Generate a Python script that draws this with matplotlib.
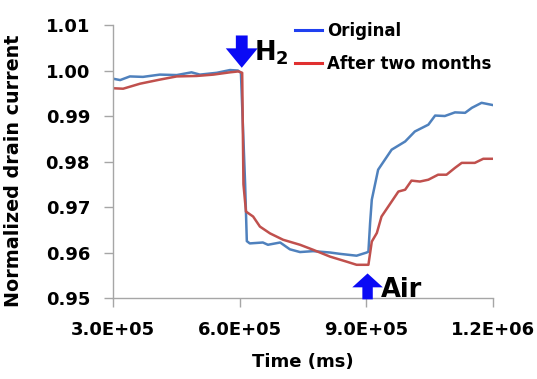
import matplotlib
matplotlib.use("Agg")
import matplotlib.pyplot as plt
from matplotlib.lines import Line2D
from matplotlib.ticker import FuncFormatter

# data (time in ms, normalized drain current)
t_orig = [3.00e5, 3.17e5, 3.40e5, 3.71e5, 4.11e5, 4.51e5, 4.86e5, 5.06e5, 5.46e5,
          5.77e5, 5.96e5, 6.03e5, 6.13e5, 6.17e5, 6.24e5, 6.55e5, 6.67e5, 6.96e5,
          7.19e5, 7.43e5, 7.74e5, 8.14e5, 8.38e5, 8.77e5, 9.01e5, 9.05e5, 9.09e5,
          9.13e5, 9.28e5, 9.44e5, 9.60e5, 9.92e5, 1.015e6, 1.047e6, 1.063e6,
          1.086e6, 1.110e6, 1.134e6, 1.150e6, 1.173e6, 1.200e6]
i_orig = [0.9982, 0.9979, 0.9987, 0.9986, 0.9991, 0.9990, 0.9996, 0.9991, 0.9995,
          1.0001, 1.0000, 0.9995, 0.9750, 0.9625, 0.9620, 0.9622, 0.9617, 0.9622,
          0.9607, 0.9601, 0.9603, 0.9600, 0.9597, 0.9593, 0.9600, 0.9602, 0.9665,
          0.9716, 0.9782, 0.9804, 0.9826, 0.9844, 0.9866, 0.9881, 0.9901,
          0.9900, 0.9908, 0.9907, 0.9918, 0.9929, 0.9924]

t_aged = [3.00e5, 3.24e5, 3.64e5, 4.11e5, 4.51e5, 4.98e5, 5.38e5, 5.77e5, 5.97e5,
          6.06e5, 6.09e5, 6.15e5, 6.32e5, 6.48e5, 6.72e5, 7.03e5, 7.43e5, 7.74e5,
          8.14e5, 8.53e5, 8.77e5, 9.05e5, 9.13e5, 9.25e5, 9.36e5, 9.52e5, 9.76e5,
          9.92e5, 1.007e6, 1.027e6, 1.047e6, 1.070e6, 1.090e6, 1.110e6, 1.126e6,
          1.157e6, 1.177e6, 1.200e6]
i_aged = [0.9961, 0.9960, 0.9971, 0.9980, 0.9987, 0.9988, 0.9991, 0.9996, 0.9998,
          0.9995, 0.9750, 0.9690, 0.9679, 0.9657, 0.9642, 0.9628, 0.9617, 0.9606,
          0.9591, 0.9580, 0.9573, 0.9573, 0.9624, 0.9643, 0.9679, 0.9701, 0.9734,
          0.9738, 0.9758, 0.9756, 0.9760, 0.9771, 0.9771, 0.9786, 0.9797,
          0.9797, 0.9806, 0.9806]

x_ticks = [3.0e5, 6.0e5, 9.0e5, 1.2e6]
y_ticks = [0.95, 0.96, 0.97, 0.98, 0.99, 1.00, 1.01]

plt.rcParams['font.family'] = 'DejaVu Sans'
plt.rcParams['font.weight'] = 'bold'

fig = plt.figure(figsize=(5.37, 3.79), dpi=100)
ax = fig.add_axes([0.2104, 0.2137, 0.7076, 0.7203])

ax.plot(t_orig, i_orig, color='#4F81BD', lw=1.8)
ax.plot(t_aged, i_aged, color='#C0504D', lw=1.8)

ax.set_xlim(3.0e5, 1.2e6)
ax.set_ylim(0.95, 1.01)
ax.set_xticks(x_ticks)
ax.set_yticks(y_ticks)
ax.xaxis.set_major_formatter(FuncFormatter(lambda v, p: f"{v:.1E}"))
ax.yaxis.set_major_formatter(FuncFormatter(lambda v, p: f"{v:.2f}"))

for s in ['top', 'right']:
    ax.spines[s].set_visible(False)
for s in ['left', 'bottom']:
    ax.spines[s].set_color('#A6A6A6')
    ax.spines[s].set_linewidth(1.0)
ax.tick_params(axis='both', direction='out', length=6.5, width=1.0,
               color='#A6A6A6', labelsize=13, pad=10)

ax.set_xlabel('Time (ms)', fontsize=13, fontweight='bold')
ax.set_ylabel('Normalized drain current', fontsize=13.8, fontweight='bold')
ax.yaxis.set_label_coords(-0.237, 0.465)
ax.xaxis.set_label_coords(0.5, -0.2)

# gas switching arrows
ax.annotate('', xy=(6.05e5, 1.0006), xytext=(6.05e5, 1.0077),
            arrowprops=dict(arrowstyle='simple,head_length=1.4,head_width=2.3,tail_width=0.85',
                            fc='#0A0AF5', ec='none', shrinkA=0, shrinkB=0,
                            mutation_scale=10))
ax.text(6.35e5, 1.0039, r'$\mathbf{H_2}$', fontsize=18.5, va='center', ha='left')

ax.annotate('', xy=(9.03e5, 0.9554), xytext=(9.03e5, 0.9497),
            arrowprops=dict(arrowstyle='simple,head_length=1.0,head_width=2.2,tail_width=0.75',
                            fc='#0A0AF5', ec='none', shrinkA=0, shrinkB=0,
                            mutation_scale=10))
ax.text(9.35e5, 0.9502, 'Air', fontsize=18.5, va='baseline', ha='left')

handles = [Line2D([], [], color='#2040F0', lw=2.2),
           Line2D([], [], color='#E03030', lw=2.2)]
ax.legend(handles, ['Original', 'After two months'], loc='upper left',
          bbox_to_anchor=(0.479, 1.012), frameon=False, fontsize=12.0,
          handlelength=1.6, handletextpad=0.3, labelspacing=0.9,
          borderpad=0, borderaxespad=0)

fig.savefig('out.png', dpi=100)
